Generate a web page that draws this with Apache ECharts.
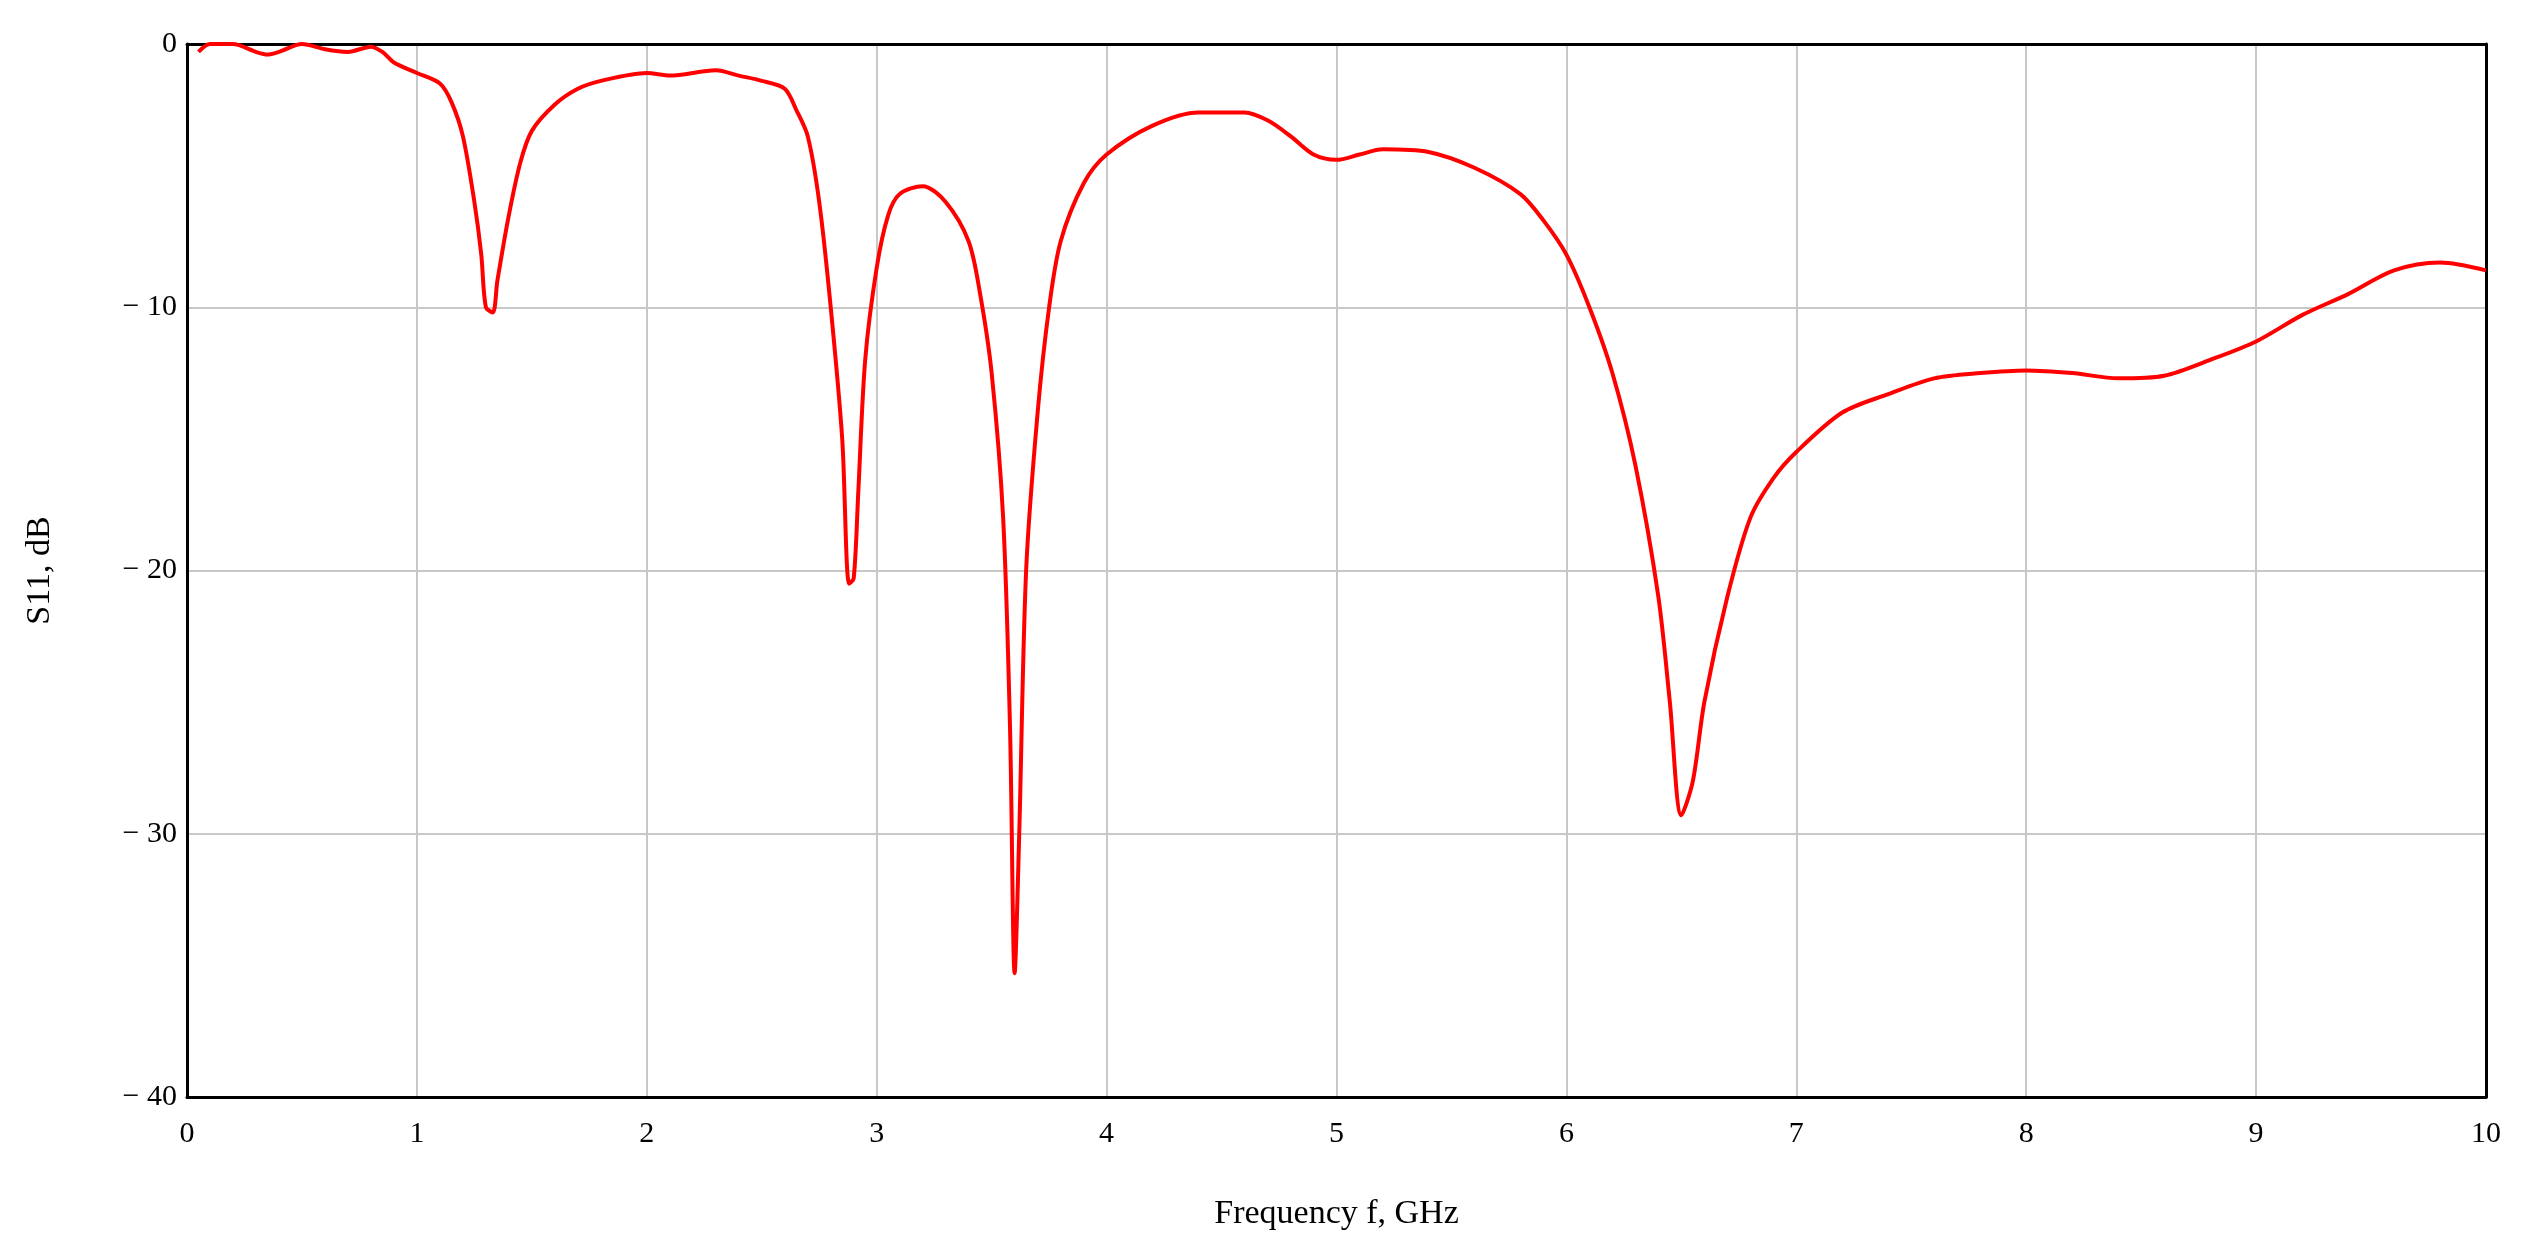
<!DOCTYPE html>
<html>
<head>
<meta charset="utf-8">
<script src="https://cdn.jsdelivr.net/npm/echarts@6/dist/echarts.min.js"></script>
<style>
  html, body { margin: 0; padding: 0; background: #fff; }
  #chart { width: 2546px; height: 1255px; }
</style>
</head>
<body>
<div id="chart"></div>
<script>
// frequency, GHz
var freq = [0.05, 0.1, 0.2, 0.3, 0.35, 0.4, 0.5, 0.6, 0.7, 0.8, 0.85, 0.9, 1.0, 1.1, 1.15, 1.2, 1.25, 1.28, 1.3, 1.33, 1.35, 1.4, 1.45, 1.5, 1.6, 1.7, 1.8, 2.0, 2.1, 2.3, 2.4, 2.5, 2.6, 2.65, 2.7, 2.75, 2.8, 2.85, 2.88, 2.9, 2.92, 2.95, 3.0, 3.05, 3.1, 3.2, 3.3, 3.4, 3.45, 3.5, 3.55, 3.58, 3.6, 3.62, 3.65, 3.7, 3.75, 3.8, 3.9, 4.0, 4.2, 4.4, 4.6, 4.7, 4.8, 4.9, 5.0, 5.1, 5.2, 5.4, 5.6, 5.8, 5.9, 6.0, 6.1, 6.2, 6.3, 6.4, 6.45, 6.5, 6.55, 6.6, 6.7, 6.8, 6.9, 7.0, 7.2, 7.4, 7.6, 7.8, 8.0, 8.2, 8.4, 8.6, 8.8, 9.0, 9.2, 9.4, 9.6, 9.8, 10.0];
// S11, dB
var s11 = [-0.3, 0, 0, -0.3, -0.4, -0.3, 0, -0.2, -0.3, -0.1, -0.3, -0.7, -1.1, -1.5, -2.2, -3.5, -6, -8, -10, -10.2, -9, -6.5, -4.5, -3.3, -2.3, -1.7, -1.4, -1.1, -1.2, -1.0, -1.2, -1.4, -1.7, -2.5, -3.5, -6, -10, -15, -20.5, -20.3, -17, -12, -8.5, -6.5, -5.7, -5.4, -6, -7.5, -9.5, -12.5, -18, -26, -35.3, -30, -20, -14, -10, -7.5, -5.3, -4.2, -3.1, -2.6, -2.6, -2.9, -3.5, -4.2, -4.4, -4.2, -4.0, -4.1, -4.7, -5.7, -6.7, -8, -10, -12.5, -16, -21, -25, -29.3, -28, -25, -21, -18, -16.5, -15.5, -14, -13.3, -12.7, -12.5, -12.4, -12.5, -12.7, -12.6, -12.0, -11.3, -10.3, -9.5, -8.6, -8.3, -8.6];

var points = freq.map(function (f, i) { return [f, s11[i]]; });
var font = 'Liberation Serif';
var frame = { show: true, onZero: false, lineStyle: { color: '#000', width: 3 } };
var grid = { showMinLine: false, showMaxLine: false, lineStyle: { color: '#c8c8c8', width: 2 } };

var chart = echarts.init(document.getElementById('chart'));
chart.setOption({
  animation: false,
  grid: { left: 187, right: 60, top: 44, bottom: 158 },
  xAxis: [{
    type: 'value', min: 0, max: 10, interval: 1,
    name: 'Frequency f, GHz', nameLocation: 'middle', nameGap: 100,
    nameTextStyle: { fontFamily: font, fontSize: 34, color: '#000' },
    axisLine: frame, axisTick: { show: false },
    axisLabel: { fontFamily: font, fontSize: 30, color: '#000', margin: 22 },
    splitLine: grid
  }, {
    type: 'value', min: 0, max: 10, position: 'top',
    axisLine: frame, axisTick: { show: false }, axisLabel: { show: false }, splitLine: { show: false }
  }],
  yAxis: [{
    type: 'value', min: -40, max: 0, interval: 10,
    name: 'S11, dB', nameLocation: 'middle', nameGap: 130,
    nameTextStyle: { fontFamily: font, fontSize: 34, color: '#000' },
    axisLine: frame, axisTick: { show: false },
    axisLabel: { fontFamily: font, fontSize: 30, color: '#000', margin: 10,
      formatter: function (v) { return v < 0 ? '\u2212 ' + (-v) : String(v); } },
    splitLine: grid
  }, {
    type: 'value', min: -40, max: 0, position: 'right',
    axisLine: frame, axisTick: { show: false }, axisLabel: { show: false }, splitLine: { show: false }
  }],
  series: [{
    type: 'line', data: points, showSymbol: false, smooth: 0.3, z: 1,
    lineStyle: { color: '#ff0000', width: 4 }
  }]
});
</script>
</body>
</html>
